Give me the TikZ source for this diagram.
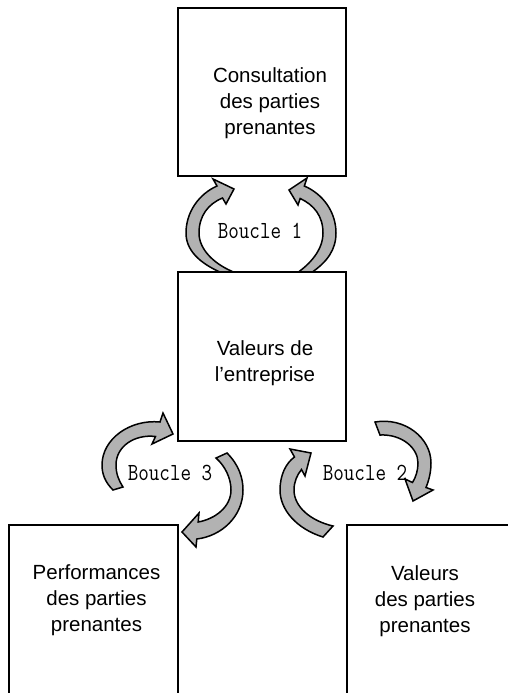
\documentclass[tikz,border=0pt]{standalone}
\usepackage{fontspec}
\setmainfont{Liberation Sans}
\usepackage{graphicx}
\definecolor{arrowgray}{RGB}{178,178,178}
\begin{document}
\begin{tikzpicture}[x=1pt,y=-1pt,
  box/.style={draw=black, line width=1.7pt, fill=white, inner sep=0pt, outer sep=0pt},
  carrow/.style={draw=black, line width=1.5pt, fill=arrowgray, line join=miter},
  lbl/.style={font=\fontsize{20.5}{26}\selectfont, align=center, inner sep=0pt},
  looplbl/.style={font=\fontsize{20.5}{24}\ttfamily, inner sep=0pt}]
\useasboundingbox (0,0) rectangle (508,693);
\clip (0,0) rectangle (508,693);
% curved arrows (drawn first, boxes cover their tails)
% Boucle 1, left
\path[carrow] (222,273) .. controls (199,263) and (186,250) .. (186,233)
  .. controls (186,212) and (199,194) .. (217,186) -- (213,179) -- (234,189)
  -- (226,204) -- (222.5,198) .. controls (208,204) and (199,216) .. (199,233)
  .. controls (199,250) and (215,265) .. (236,273) -- (239,285) -- (224,285) -- cycle;
% Boucle 1, right
\path[carrow] (311,273) .. controls (327,262) and (336,250) .. (336,233)
  .. controls (336,212) and (323,194) .. (304.3,186) -- (307,178) -- (289,190)
  -- (298,205) -- (300.2,198.5) .. controls (314,205) and (323,216) .. (323,233)
  .. controls (323,250) and (310,264) .. (297,273) -- (294,285) -- (313,285) -- cycle;
% Boucle 3, upper
\path[carrow] (113,490) .. controls (105,482) and (102,474) .. (102,465)
  .. controls (102,439) and (130,419) .. (160,422) -- (163,413) -- (173,434)
  -- (152,444) -- (155.5,436.5) .. controls (135,434) and (116,446) .. (116,465)
  .. controls (116,474) and (119,481) .. (123,487) -- cycle;
% Boucle 3, lower
\path[carrow] (227,453) .. controls (239,465) and (243,478) .. (243,490)
  .. controls (243,516) and (222,536) .. (196.8,539) -- (196,547) -- (182,532)
  -- (199,513) -- (198.2,522) .. controls (215,519) and (231,507) .. (231,490)
  .. controls (231,478) and (225,466) .. (216,458) -- cycle;
% Boucle 2, upper
\path[carrow] (375,422) .. controls (405,417) and (431,438) .. (431,463)
  .. controls (431,472) and (429,480) .. (426,487.5) -- (433,490) -- (413,501)
  -- (405,479) -- (412.5,482.5) .. controls (416,477) and (418,470) .. (418,463)
  .. controls (418,448) and (402,434) .. (380,435) -- cycle;
% Boucle 2, lower
\path[carrow] (323,537) .. controls (297,529) and (280,510) .. (280,490)
  .. controls (280,475) and (286,463) .. (294.5,457) -- (290,449) -- (311,453)
  -- (305,476) -- (301.5,469.5) .. controls (297,475) and (294,482) .. (294,490)
  .. controls (294,507) and (311,521) .. (333,526) -- cycle;
% boxes
\node[box, minimum width=168pt, minimum height=168pt] (consult) at (262,92) {};
\node[box, minimum width=168pt, minimum height=169pt] (valent) at (262,356.5) {};
\node[box, minimum width=169pt, minimum height=190pt] (perf) at (93.5,620) {};
\node[box, minimum width=180pt, minimum height=190pt] (valpp) at (437,620) {};
% box texts
\node[lbl] (tconsult) at (270,102.7) {Consultation\\des parties\\prenantes};
\node[lbl] (tvalent) at (265,362.7) {Valeurs de\\l’entreprise};
\node[lbl] (tperf) at (96.5,600.7) {Performances\\des parties\\prenantes};
\node[lbl] (tvalpp) at (425,600.7) {Valeurs\\des parties\\prenantes};
% loop labels
\node[looplbl] (b1) at (260,230.5) {\scalebox{1}[1.2]{Boucle 1}};
\node[looplbl] (b3) at (170,472.5) {\scalebox{1}[1.2]{Boucle 3}};
\node[looplbl] (b2) at (365,472.5) {\scalebox{1}[1.2]{Boucle 2}};
\end{tikzpicture}
\end{document}
